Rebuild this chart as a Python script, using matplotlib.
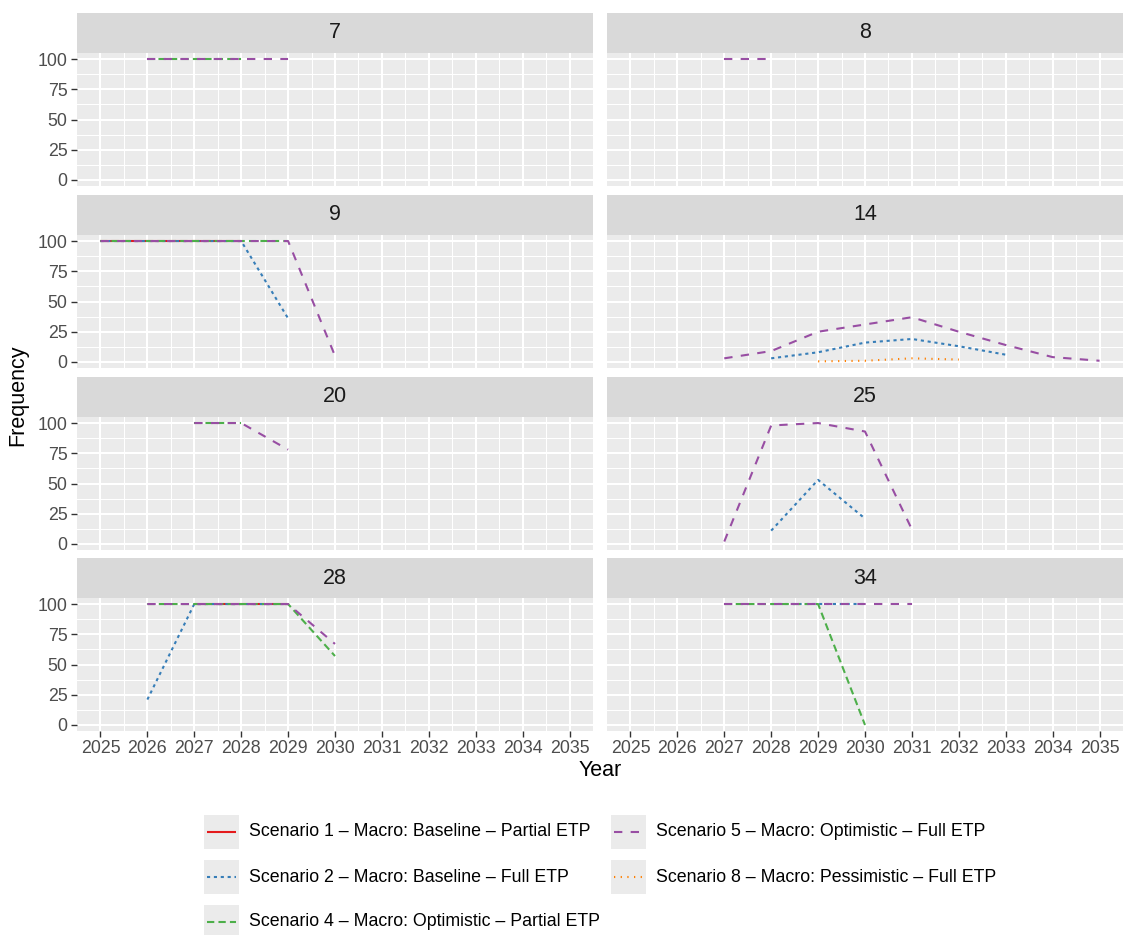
# Frequency by year for each case, one panel per case, scenarios as line types

import matplotlib
matplotlib.use("Agg")
import matplotlib.pyplot as plt
from matplotlib.patches import Rectangle
from matplotlib.lines import Line2D

plt.rcParams['font.family'] = ['Liberation Sans', 'DejaVu Sans']

#**************** data ****************
panel_names = ["7", "8", "9", "14", "20", "25", "28", "34"]
years = list(range(2025, 2036))
y_ticks = [0, 25, 50, 75, 100]

scenarios = ["S1", "S2", "S4", "S5", "S8"]
labels = {
    "S1": "Scenario 1 \u2013 Macro: Baseline \u2013 Partial ETP",
    "S2": "Scenario 2 \u2013 Macro: Baseline \u2013 Full ETP",
    "S4": "Scenario 4 \u2013 Macro: Optimistic \u2013 Partial ETP",
    "S5": "Scenario 5 \u2013 Macro: Optimistic \u2013 Full ETP",
    "S8": "Scenario 8 \u2013 Macro: Pessimistic \u2013 Full ETP",
}

p7 = {"S4": ([2026, 2027, 2028], [100, 100, 100]),
      "S5": ([2026, 2027, 2028, 2029], [100, 100, 100, 100])}
p8 = {"S5": ([2027, 2028], [100, 100])}
p9 = {"S1": ([2025, 2026, 2027, 2028], [100, 100, 100, 100]),
      "S2": ([2025, 2026, 2027, 2028, 2029], [100, 100, 100, 100, 36]),
      "S4": ([2025, 2026, 2027, 2028, 2029], [100, 100, 100, 100, 100]),
      "S5": ([2025, 2026, 2027, 2028, 2029, 2030], [100, 100, 100, 100, 100, 5])}
p14 = {"S2": ([2028, 2029, 2030, 2031, 2032, 2033], [3, 8, 16, 19, 13, 6]),
       "S5": ([2027, 2028, 2029, 2030, 2031, 2032, 2033, 2034, 2035], [3, 9, 25, 31, 37, 25, 14, 4, 1]),
       "S8": ([2029, 2030, 2031, 2032], [0.5, 1, 3, 2])}
p20 = {"S4": ([2027, 2028], [100, 100]),
       "S5": ([2027, 2028, 2029], [100, 100, 78])}
p25 = {"S2": ([2028, 2029, 2030], [11, 53, 21]),
       "S5": ([2027, 2028, 2029, 2030, 2031], [2, 98, 100, 93, 12])}
p28 = {"S1": ([2027, 2028, 2029], [100, 100, 100]),
       "S2": ([2026, 2027, 2028, 2029], [21, 100, 100, 100]),
       "S4": ([2026, 2027, 2028, 2029, 2030], [100, 100, 100, 100, 57]),
       "S5": ([2026, 2027, 2028, 2029, 2030], [100, 100, 100, 100, 67])}
p34 = {"S2": ([2028, 2029, 2030], [100, 100, 100]),
       "S4": ([2027, 2028, 2029, 2030], [100, 100, 100, 0]),
       "S5": ([2027, 2028, 2029, 2030, 2031], [100, 100, 100, 100, 100])}
panel_data = [p7, p8, p9, p14, p20, p25, p28, p34]

#**************** styles ****************
colors = {"S1": "#E41A1C", "S2": "#377EB8", "S4": "#4DAF4A", "S5": "#984EA3", "S8": "#FF7F00"}
dashes = {"S1": (), "S2": (1.5, 1.8), "S4": (3.5, 2.0), "S5": (4, 4), "S8": (0.6, 2.6)}
lw = 1.5

W, H = 1123.0, 935.0
fig = plt.figure(figsize=(W / 100, H / 100), dpi=100)


def px_rect(left, top, width, height):
    return [left / W, 1 - (top + height) / H, width / W, height / H]


col_left = [77, 607]
row_top = [53, 235, 417, 598]
pw, ph = 516, 133
strip_h = 40

for i, name in enumerate(panel_names):
    row, col = i // 2, i % 2
    ax = fig.add_axes(px_rect(col_left[col], row_top[row], pw, ph))
    ax.set_facecolor('#EBEBEB')
    for s in ax.spines.values():
        s.set_visible(False)
    ax.set_xlim(2024.5, 2035.5)
    ax.set_ylim(-5, 105)
    ax.set_xticks(years)
    ax.set_xticks([y + 0.5 for y in years[:-1]], minor=True)
    ax.set_yticks(y_ticks)
    ax.set_yticks([12.5, 37.5, 62.5, 87.5], minor=True)
    ax.grid(which='major', color='white', lw=1.5)
    ax.grid(which='minor', color='white', lw=0.75)
    ax.set_axisbelow(True)
    ax.tick_params(which='minor', length=0)
    ax.tick_params(which='major', length=4.3, width=1.0, color='#333333',
                   labelsize=12.8, labelcolor='#4D4D4D', pad=2.5)
    if row < 3:
        ax.tick_params(axis='x', length=0, labelbottom=False)
    if col == 1:
        ax.tick_params(axis='y', length=0, labelleft=False)

    d = panel_data[i]
    for sc in scenarios:
        if sc in d:
            x, y = d[sc]
            ax.plot(x, y, color=colors[sc], lw=lw, dashes=dashes[sc],
                    solid_capstyle='butt', dash_capstyle='butt')

    sax = fig.add_axes(px_rect(col_left[col], row_top[row] - strip_h, pw, strip_h))
    sax.set_facecolor('#D9D9D9')
    sax.set_xticks([])
    sax.set_yticks([])
    for s in sax.spines.values():
        s.set_visible(False)
    sax.text(0.5, 0.5, name, ha='center', va='center', fontsize=15.5, color='#1A1A1A')

# axis titles
fig.text(600 / W, 1 - 771 / H, "Year", ha='center', va='center', fontsize=15.5)
fig.text(18 / W, 1 - 395 / H, "Frequency", ha='center', va='center', rotation=90, fontsize=15.5)

#**************** legend at the bottom, drawn by hand with key boxes ****************
key_x = {"S1": 204, "S2": 204, "S4": 204, "S5": 611, "S8": 611}
key_top = {"S1": 815, "S2": 860, "S4": 905, "S5": 815, "S8": 860}
kw, kh = 35, 34
for sc in scenarios:
    kx, kt = key_x[sc], key_top[sc]
    fig.patches.append(Rectangle((kx / W, 1 - (kt + kh) / H), kw / W, kh / H,
                                 transform=fig.transFigure, facecolor='#EBEBEB', edgecolor='none'))
    yc = 1 - (kt + kh / 2) / H
    fig.lines.append(Line2D([(kx + 3) / W, (kx + kw - 3) / W], [yc, yc], transform=fig.transFigure,
                            color=colors[sc], lw=lw, dashes=dashes[sc],
                            solid_capstyle='butt', dash_capstyle='butt'))
    fig.text((kx + kw + 10) / W, yc, labels[sc], ha='left', va='center', fontsize=12.8)

fig.savefig('out.png', dpi=100)
plt.close()
